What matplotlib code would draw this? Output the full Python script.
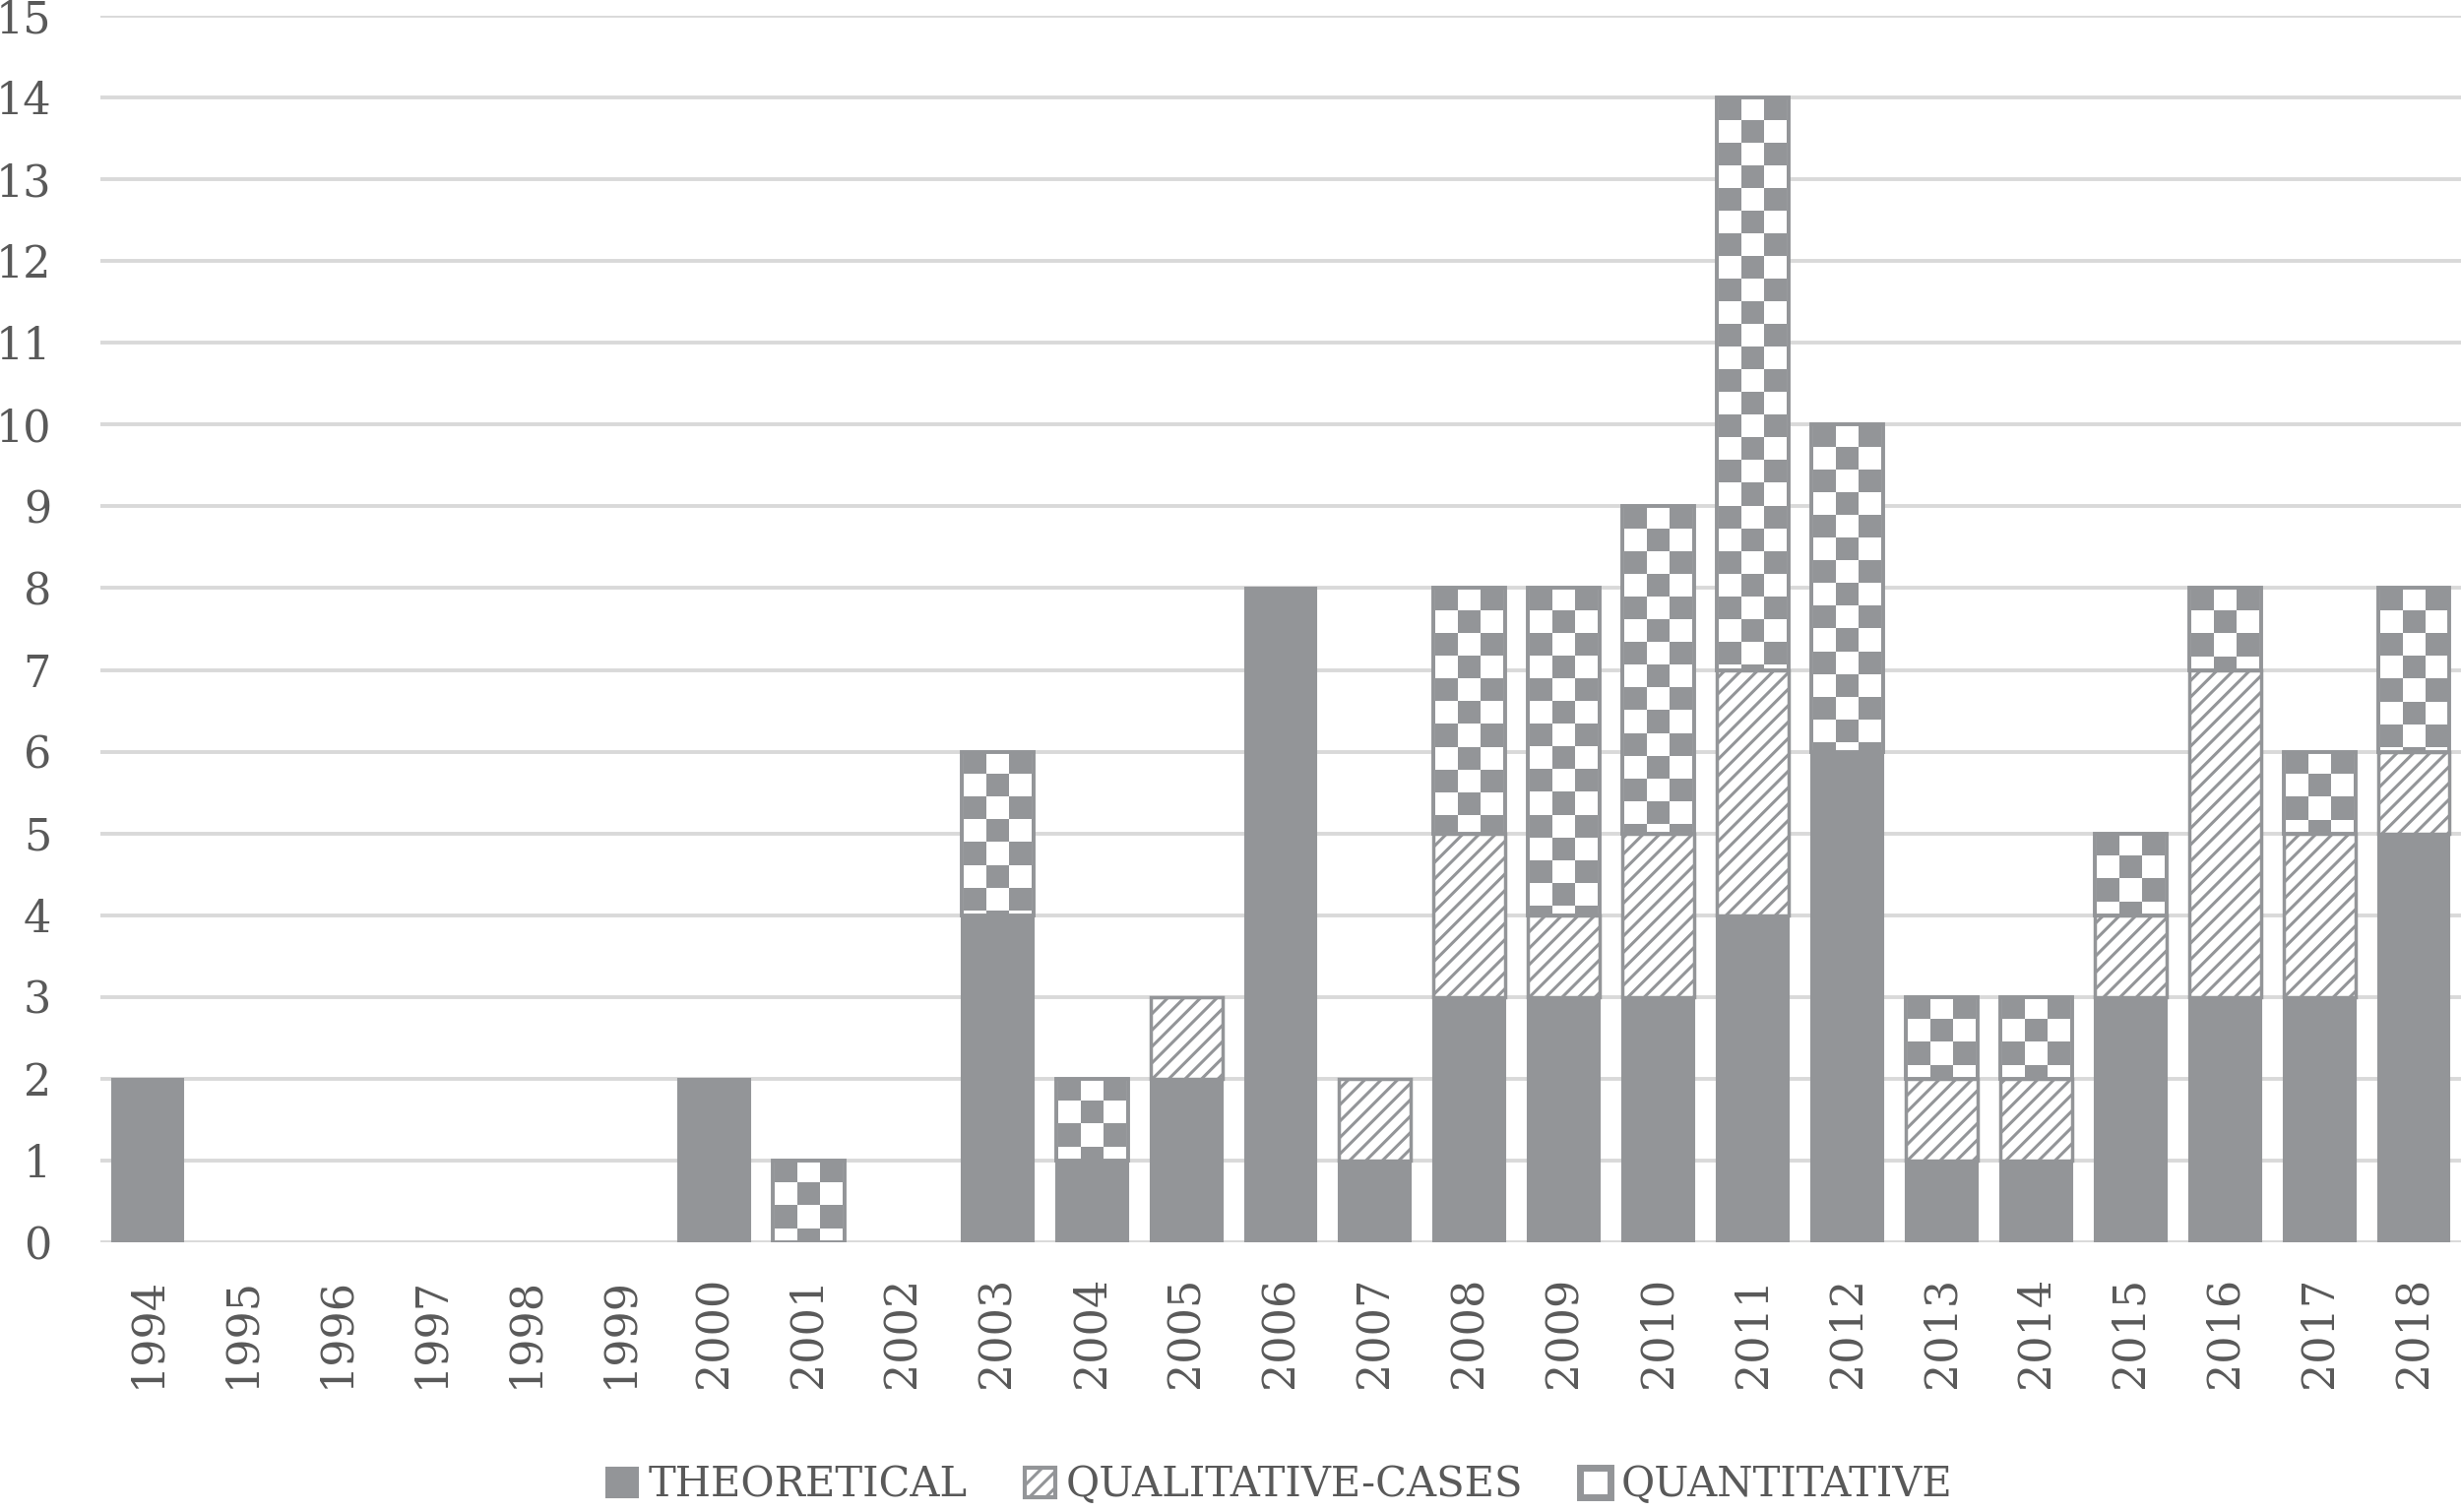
import numpy as np
import matplotlib
matplotlib.use("Agg")
import matplotlib.pyplot as plt
from matplotlib.colors import ListedColormap
from matplotlib.patches import Patch

years = [str(y) for y in range(1994, 2019)]
theoretical = [2, 0, 0, 0, 0, 0, 2, 0, 0, 4, 1, 2, 8, 1, 3, 3, 3, 4, 6, 1, 1, 3, 3, 3, 5]
qualitative = [0, 0, 0, 0, 0, 0, 0, 0, 0, 0, 0, 1, 0, 1, 2, 1, 2, 3, 0, 1, 1, 1, 4, 2, 1]
quantitative = [0, 0, 0, 0, 0, 0, 0, 1, 0, 2, 1, 0, 0, 0, 3, 4, 4, 7, 4, 1, 1, 1, 1, 1, 2]
series_names = ["THEORETICAL", "QUALITATIVE-CASES", "QUANTITATIVE"]
yticks = list(range(0, 16))

GRAY = "#939598"
TEXT = "#595959"
GRID = "#d9d9d9"

plt.rcParams['font.family'] = ['DejaVu Serif']
plt.rcParams['hatch.linewidth'] = 2.2
plt.rcParams['hatch.color'] = GRAY

fig = plt.figure(figsize=(25, 15.36), dpi=100)
ax = fig.add_axes([0.0408, 0.1784, 0.9592, 0.8112])

x = np.arange(len(years))
th = np.array(theoretical, float)
ql = np.array(qualitative, float)
qn = np.array(quantitative, float)
W = 0.76

b1 = ax.bar(x, th, W, color=GRAY, edgecolor=GRAY, linewidth=1.5, zorder=2)
b2 = ax.bar(x, ql, W, bottom=th, facecolor="white", edgecolor=GRAY, hatch="//",
            linewidth=2.5, zorder=2)
b3 = ax.bar(x, qn, W, bottom=th + ql, facecolor="none", edgecolor=GRAY,
            linewidth=2.8, zorder=3)

for cont in (b1, b2, b3):
    for p in cont.patches:
        if p.get_height() <= 0:
            p.set_visible(False)

# checkerboard fill for quantitative segments
cx, cy = 0.24, 0.277
cmap = ListedColormap(["white", GRAY])
for rect in b3.patches:
    h = rect.get_height()
    if h <= 0:
        continue
    x0, y0, w = rect.get_x(), rect.get_y(), rect.get_width()
    nx = int(np.ceil(w / cx)) + 1
    ny = int(np.ceil(h / cy))
    arr = np.add.outer(np.arange(ny), np.arange(nx)) % 2
    xc = x0 + w / 2
    im = ax.imshow(arr, cmap=cmap, vmin=0, vmax=1, origin="upper",
                   extent=(xc - nx * cx / 2, xc + nx * cx / 2, y0 + h - ny * cy, y0 + h),
                   interpolation="nearest", aspect="auto", zorder=2.5)
    im.set_clip_path(rect)

ax.set_xlim(-0.5, len(years) - 0.5)
ax.set_ylim(0, 15)
ax.set_yticks(yticks)
ax.set_xticks(x)
ax.set_xticklabels(years, rotation=90)
ax.set_axisbelow(True)
ax.yaxis.grid(True, color=GRID, linewidth=2.8, zorder=0)
for s in ax.spines.values():
    s.set_visible(False)
ax.tick_params(axis="y", length=0, pad=36, labelsize=32, labelcolor=TEXT)
ax.tick_params(axis="x", length=0, pad=25, labelsize=32, labelcolor=TEXT)

handles = [
    Patch(facecolor=GRAY, edgecolor=GRAY, linewidth=1.5),
    Patch(facecolor="white", edgecolor=GRAY, hatch="//", linewidth=3),
    Patch(facecolor="white", edgecolor=GRAY, linewidth=5),
]
leg = fig.legend(handles=handles, labels=series_names, loc="center",
                 bbox_to_anchor=(0.52, 0.018), ncol=3, frameon=False,
                 fontsize=30, handlelength=0.75, handleheight=0.75,
                 handletextpad=0.25, columnspacing=1.4)
for t in leg.get_texts():
    t.set_color(TEXT)

fig.savefig("out.png", dpi=100, facecolor="white")
